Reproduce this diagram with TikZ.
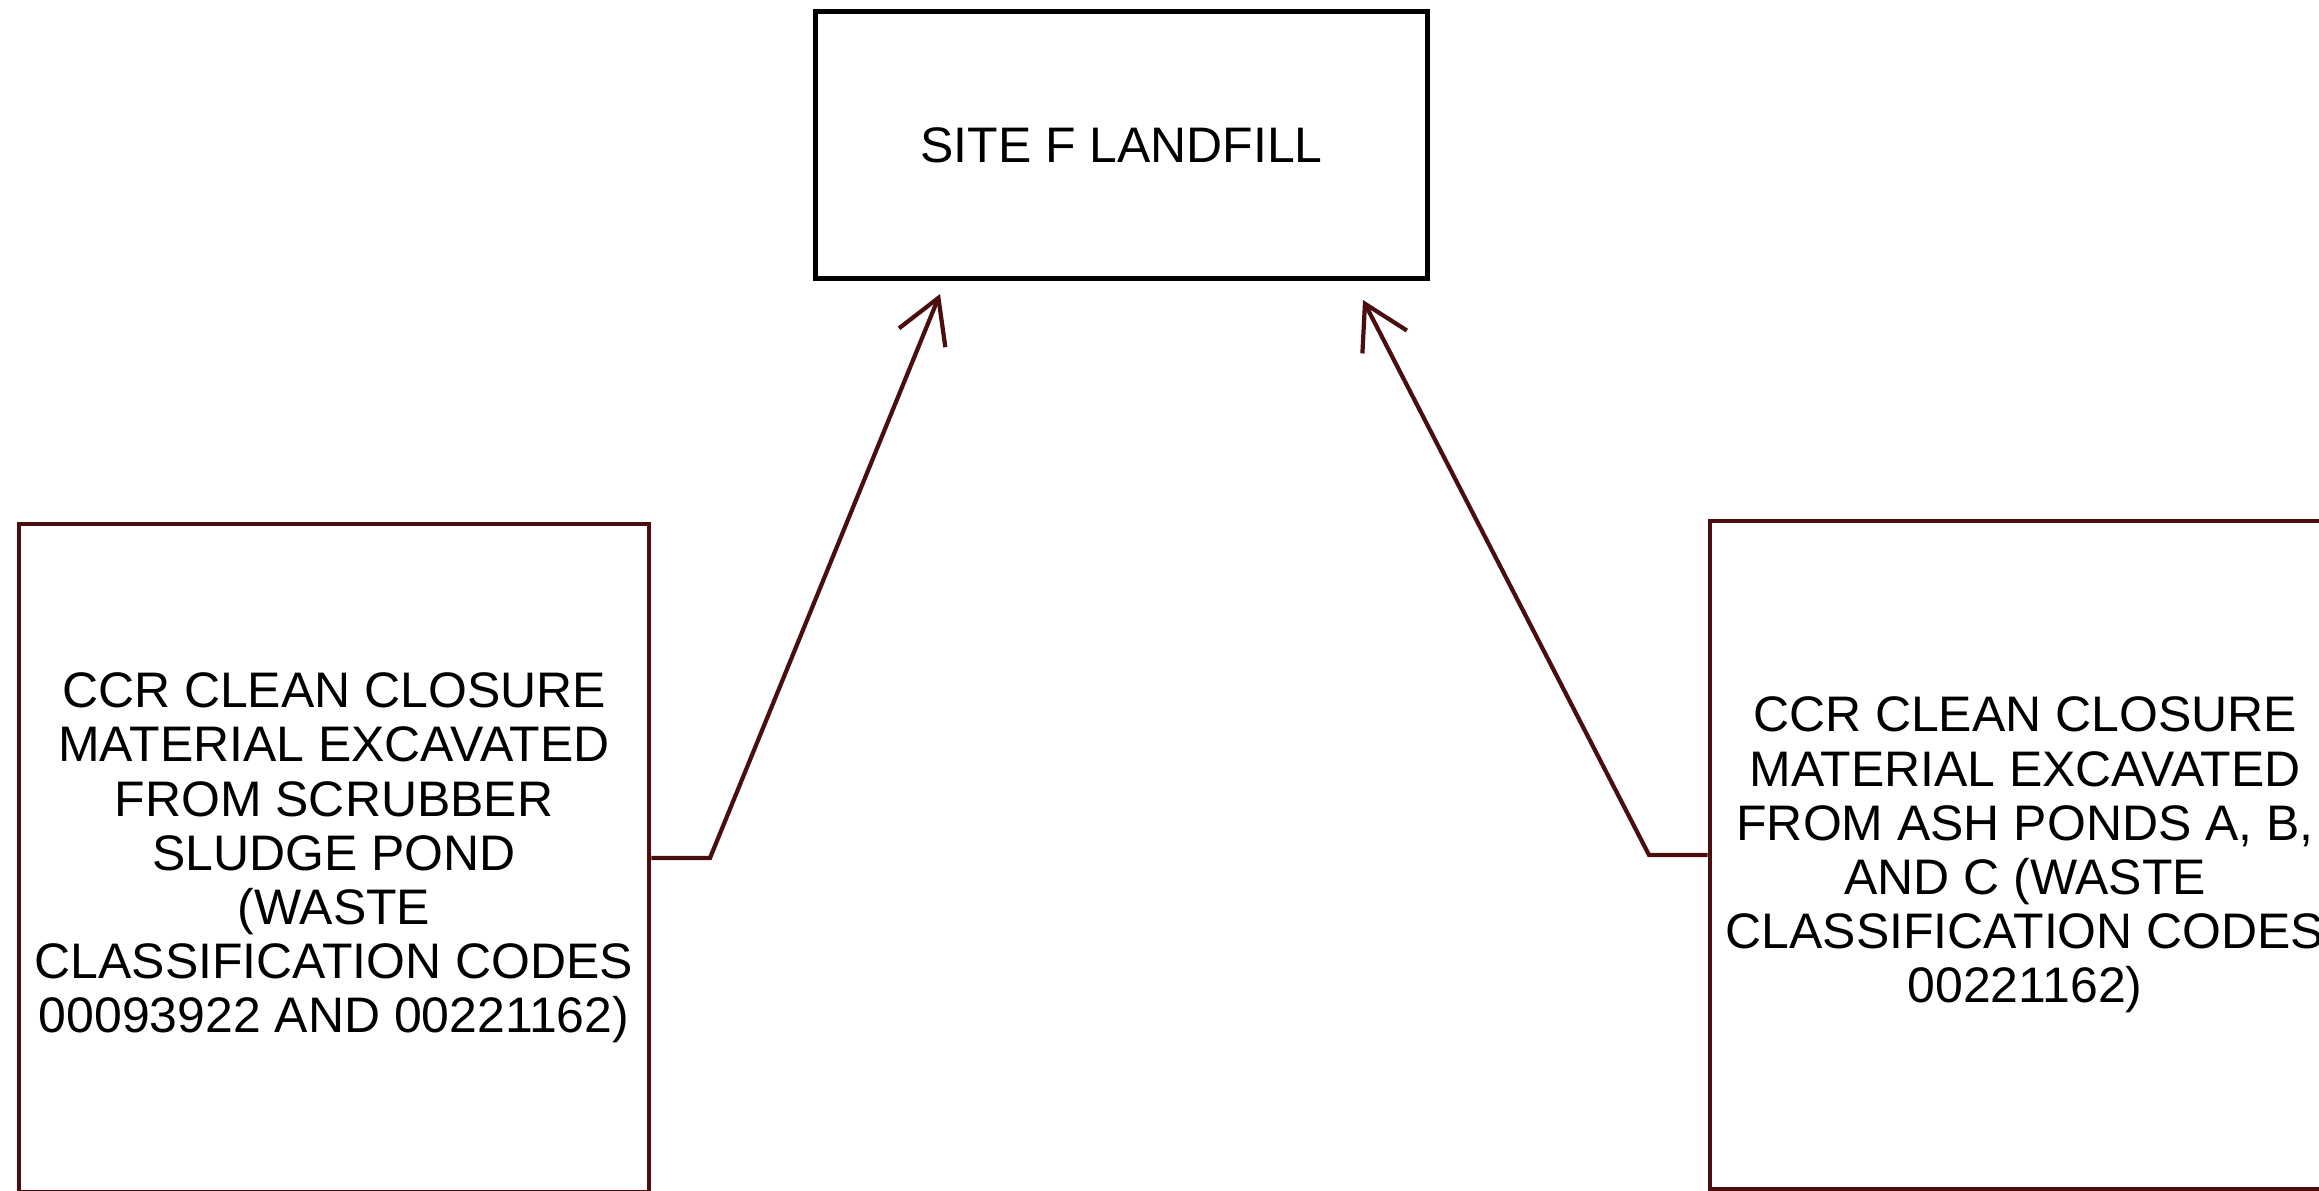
\documentclass[tikz,border=0pt]{standalone}
\usepackage{fontspec}
\setmainfont{Liberation Sans}
\usetikzlibrary{arrows.meta,positioning}
\definecolor{maroon}{RGB}{75,14,14}
\begin{document}
\begin{tikzpicture}[x=0.01cm, y=-0.01cm, every node/.style={font=\fontsize{14.2}{15.4}\selectfont}, st/.style={draw=maroon, line width=1.2pt, align=center, inner sep=0pt, minimum width=6.3cm, minimum height=6.68cm}, arr/.style={draw=maroon, line width=1.2pt, -{Straight Barb[length=0.43cm, width=0.5cm]}}]
\useasboundingbox (0,0) rectangle (2319,1190);
\clip (0,0) rectangle (2319,1190);
\node[draw, line width=1.4pt, minimum width=6.11cm, minimum height=2.66cm] (landfill) at (1121.5,145) {SITE F LANDFILL};
\node[st] (sludge) at (334,858) {CCR CLEAN CLOSURE\\MATERIAL EXCAVATED\\FROM SCRUBBER\\SLUDGE POND\\(WASTE\\CLASSIFICATION CODES\\00093922 AND 00221162)};
\node[st] (ash) at (2025,855) {CCR CLEAN CLOSURE\\MATERIAL EXCAVATED\\FROM ASH PONDS A, B,\\AND C (WASTE\\CLASSIFICATION CODES\\00221162)};
\coordinate (bendL) at (710,858); \coordinate (tipL) at (940,294);
\coordinate (bendR) at (1649,855); \coordinate (tipR) at (1363,300);
\draw[arr] (sludge.east) -- (bendL) -- (tipL); \draw[arr] (ash.west) -- (bendR) -- (tipR);
\end{tikzpicture}
\end{document}
